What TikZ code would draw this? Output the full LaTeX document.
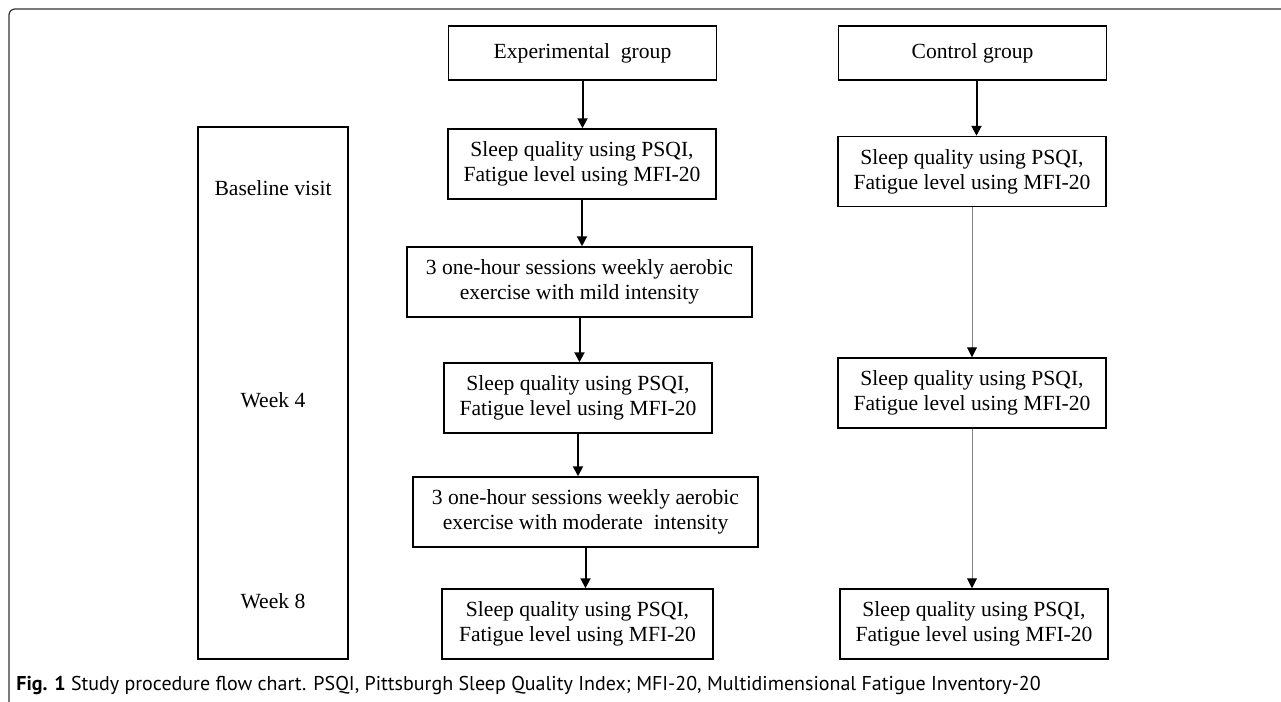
\documentclass[tikz,border=0pt]{standalone}
\usepackage{fontspec}
\setmainfont{Liberation Serif}
\newfontfamily\capfont{PT Sans}
\usetikzlibrary{arrows.meta}

\begin{document}
\begin{tikzpicture}[x=0.5pt,y=-0.5pt,
    stepbox/.style={draw,line width=0.75pt,align=center,inner sep=0pt,
      font=\fontsize{10.8}{12.4}\selectfont,minimum width=134pt,minimum height=35pt},
    widebox/.style={stepbox,minimum width=172.5pt},
    flow/.style={line width=1pt,-{Triangle[length=5pt,width=5pt]}},
    thinflow/.style={line width=0.5pt,draw=gray,-{Triangle[length=5pt,width=5pt,color=black]}}]
    \useasboundingbox (0,0) rectangle (1281,702);
    % frame round the figure
    \draw[line width=0.6pt,draw=black!80,rounded corners=3pt] (9,702) -- (9,9) -- (1281,9);

    % time points
    \node[draw,line width=0.75pt,minimum width=75pt,minimum height=266pt] (visits) at (273,393) {};
    \node[font=\fontsize{10.8}{12.4}\selectfont] (basel) at (273,188) {Baseline visit};
    \node[font=\fontsize{10.8}{12.4}\selectfont] (wk4) at (273,400) {Week 4};
    \node[font=\fontsize{10.8}{12.4}\selectfont] (wk8) at (273,601) {Week 8};

    % experimental arm
    \node[stepbox,minimum height=27pt] (expgrp) at (582.5,53) {Experimental~ group};
    \node[stepbox] (expbase) at (582,164) {Sleep quality using PSQI,\\Fatigue level using MFI-20};
    \node[widebox] (mild) at (579.5,282) {3 one-hour sessions weekly aerobic\\exercise with mild intensity};
    \node[stepbox] (expwk4) at (578,398) {Sleep quality using PSQI,\\Fatigue level using MFI-20};
    \node[widebox] (moder) at (585.5,512) {3 one-hour sessions weekly aerobic\\exercise with moderate~ intensity};
    \node[stepbox,minimum width=135.5pt] (expwk8) at (577.5,624) {Sleep quality using PSQI,\\Fatigue level using MFI-20};

    % control arm
    \node[stepbox,minimum height=27pt] (ctlgrp) at (972.5,53) {Control group};
    \node[stepbox] (ctlbase) at (972,171.5) {Sleep quality using PSQI,\\Fatigue level using MFI-20};
    \node[stepbox] (ctlwk4) at (972,393) {Sleep quality using PSQI,\\Fatigue level using MFI-20};
    \node[stepbox] (ctlwk8) at (974,624) {Sleep quality using PSQI,\\Fatigue level using MFI-20};

    \draw[flow] (expgrp) -- (expgrp |- expbase.north);
    \draw[flow] (expbase) -- (expbase |- mild.north);
    \draw[flow] (mild) -- (mild |- expwk4.north);
    \draw[flow] (expwk4) -- (expwk4 |- moder.north);
    \draw[flow] (moder) -- (moder |- expwk8.north);
    \draw[flow] ([xshift=2pt]ctlgrp.south) -- ([xshift=2pt]ctlgrp.south |- ctlbase.north);
    \draw[thinflow] (ctlbase) -- (ctlbase |- ctlwk4.north);
    \draw[thinflow] (ctlwk4) -- (ctlwk4 |- ctlwk8.north);

    % caption
    \node[anchor=base west,inner sep=0pt,font=\capfont\fontsize{10}{12}\selectfont] (caption) at (16,690)
      {\textbf{Fig. 1} Study procedure flow chart. PSQI, Pittsburgh Sleep Quality Index; MFI-20, Multidimensional Fatigue Inventory-20};
\end{tikzpicture}
\end{document}
